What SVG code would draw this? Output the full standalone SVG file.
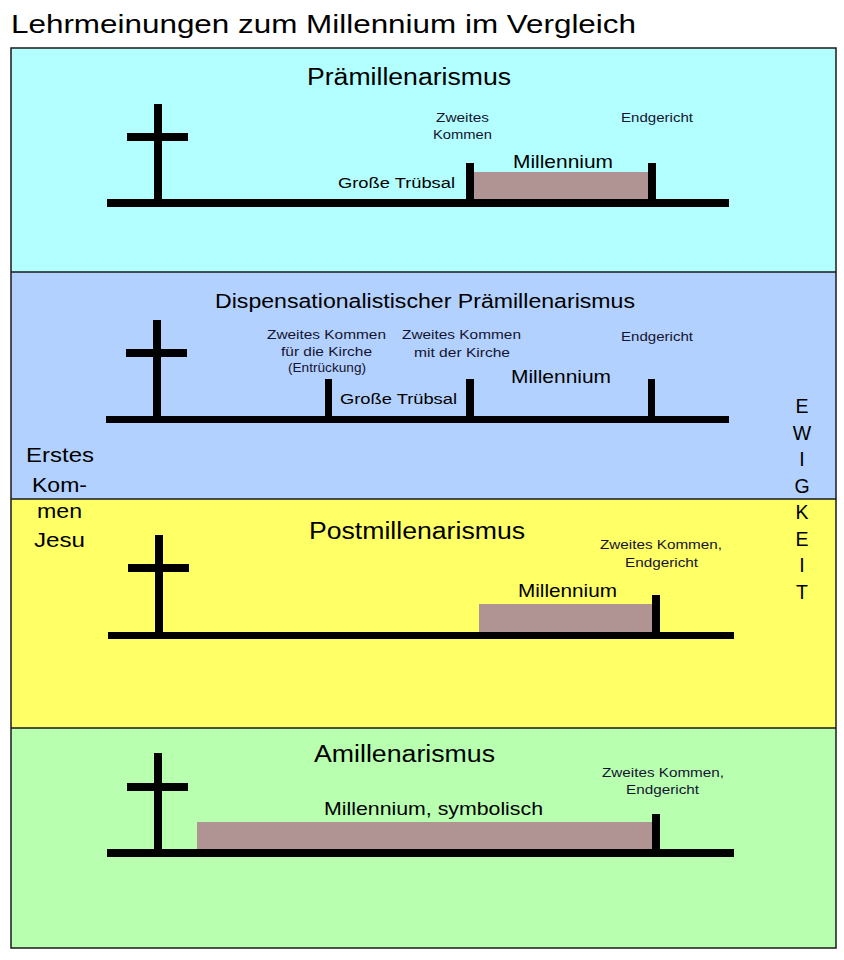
<svg xmlns="http://www.w3.org/2000/svg" width="844" height="960" viewBox="0 0 844 960">
<style>
text{font-family:"Liberation Sans",Arial,sans-serif;}
.ttl{font-size:25.5px;fill:#000;}
.hd{font-size:23px;fill:#000;text-anchor:middle;}
.hd2{font-size:20px;fill:#000;text-anchor:middle;}
.mil{font-size:19px;fill:#000;text-anchor:middle;}
.gt{font-size:15.5px;fill:#000;text-anchor:middle;}
.sm{font-size:13.5px;fill:#141430;text-anchor:middle;}
.xs{font-size:12px;fill:#141430;text-anchor:middle;}
.side{font-size:21px;fill:#000;text-anchor:middle;}
.ew{font-size:19.5px;fill:#000;text-anchor:middle;}
.blk{fill:#000;}
.bar{fill:#b09494;}
.div{stroke:#1a1a1a;stroke-width:1.5;fill:none;}
</style>
<rect x="0" y="0" width="844" height="960" fill="#fff"/>
<text class="ttl" x="11" y="33" textLength="625" lengthAdjust="spacingAndGlyphs">Lehrmeinungen zum Millennium im Vergleich</text>

<g id="band-praemill">
<rect x="11" y="48" width="825" height="224" fill="#b3ffff"/>
<text class="hd" x="409" y="85" textLength="204" lengthAdjust="spacingAndGlyphs">Prämillenarismus</text>
<rect class="blk" x="154" y="104" width="8" height="99"/>
<rect class="blk" x="127" y="133" width="61" height="8"/>
<rect class="blk" x="107" y="199" width="622" height="8"/>
<rect class="bar" x="474" y="172" width="174" height="27"/>
<rect class="blk" x="466" y="163" width="8" height="40"/>
<rect class="blk" x="648" y="163" width="8" height="40"/>
<text class="sm" x="462.5" y="122" textLength="53" lengthAdjust="spacingAndGlyphs">Zweites</text>
<text class="sm" x="462.5" y="139" textLength="59" lengthAdjust="spacingAndGlyphs">Kommen</text>
<text class="sm" x="657" y="122" textLength="72" lengthAdjust="spacingAndGlyphs">Endgericht</text>
<text class="mil" x="563" y="168" textLength="100" lengthAdjust="spacingAndGlyphs">Millennium</text>
<text class="gt" x="396.5" y="188" textLength="117" lengthAdjust="spacingAndGlyphs">Große Trübsal</text>
</g>

<g id="band-dispens">
<rect x="11" y="272" width="825" height="227" fill="#b3d1ff"/>
<text class="hd2" x="425" y="308" textLength="420" lengthAdjust="spacingAndGlyphs">Dispensationalistischer Prämillenarismus</text>
<rect class="blk" x="153" y="320" width="8" height="100"/>
<rect class="blk" x="126" y="349" width="61" height="8"/>
<rect class="blk" x="106" y="416" width="623" height="7"/>
<rect class="blk" x="325" y="379" width="7" height="40"/>
<rect class="blk" x="466" y="379" width="8" height="40"/>
<rect class="blk" x="648" y="379" width="7" height="40"/>
<text class="sm" x="326.5" y="339" textLength="119" lengthAdjust="spacingAndGlyphs">Zweites Kommen</text>
<text class="sm" x="326.5" y="356" textLength="91" lengthAdjust="spacingAndGlyphs">für die Kirche</text>
<text class="xs" x="327" y="372" textLength="78" lengthAdjust="spacingAndGlyphs">(Entrückung)</text>
<text class="sm" x="461.5" y="339" textLength="119" lengthAdjust="spacingAndGlyphs">Zweites Kommen</text>
<text class="sm" x="462" y="357" textLength="96" lengthAdjust="spacingAndGlyphs">mit der Kirche</text>
<text class="sm" x="657" y="341" textLength="72" lengthAdjust="spacingAndGlyphs">Endgericht</text>
<text class="mil" x="561" y="383" textLength="100" lengthAdjust="spacingAndGlyphs">Millennium</text>
<text class="gt" x="398.5" y="404" textLength="117" lengthAdjust="spacingAndGlyphs">Große Trübsal</text>
</g>

<g id="band-postmill">
<rect x="11" y="499" width="825" height="229" fill="#ffff66"/>
<text class="hd" x="417" y="539" textLength="216" lengthAdjust="spacingAndGlyphs">Postmillenarismus</text>
<rect class="blk" x="155" y="535" width="8" height="100"/>
<rect class="blk" x="128" y="564" width="61" height="8"/>
<rect class="blk" x="108" y="632" width="626" height="7"/>
<rect class="bar" x="479" y="604" width="173" height="28"/>
<rect class="blk" x="652" y="595" width="8" height="40"/>
<text class="sm" x="661" y="549" textLength="122" lengthAdjust="spacingAndGlyphs">Zweites Kommen,</text>
<text class="sm" x="661.5" y="567" textLength="73" lengthAdjust="spacingAndGlyphs">Endgericht</text>
<text class="mil" x="567.5" y="597" textLength="99" lengthAdjust="spacingAndGlyphs">Millennium</text>
</g>

<g id="band-amill">
<rect x="11" y="728" width="825" height="220" fill="#b8ffb0"/>
<text class="hd" x="404.5" y="762" textLength="181" lengthAdjust="spacingAndGlyphs">Amillenarismus</text>
<rect class="blk" x="154" y="753" width="8" height="100"/>
<rect class="blk" x="127" y="783" width="61" height="8"/>
<rect class="blk" x="107" y="849" width="627" height="8"/>
<rect class="bar" x="197" y="822" width="455" height="27"/>
<rect class="blk" x="652" y="814" width="8" height="40"/>
<text class="sm" x="663" y="777" textLength="122" lengthAdjust="spacingAndGlyphs">Zweites Kommen,</text>
<text class="sm" x="662.5" y="794" textLength="73" lengthAdjust="spacingAndGlyphs">Endgericht</text>
<text class="mil" x="433.5" y="815" textLength="219" lengthAdjust="spacingAndGlyphs">Millennium, symbolisch</text>
</g>

<g id="frame">
<line class="div" x1="11" y1="272" x2="836" y2="272"/>
<line class="div" x1="11" y1="499" x2="836" y2="499"/>
<line class="div" x1="11" y1="728" x2="836" y2="728"/>
<rect class="div" x="11" y="48" width="825" height="900"/>
</g>

<g id="erstes-kommen">
<text class="side" x="60" y="462" textLength="68" lengthAdjust="spacingAndGlyphs">Erstes</text>
<text class="side" x="59.5" y="492" textLength="55" lengthAdjust="spacingAndGlyphs">Kom-</text>
<text class="side" x="59.5" y="518" textLength="45" lengthAdjust="spacingAndGlyphs">men</text>
<text class="side" x="59.5" y="547" textLength="51" lengthAdjust="spacingAndGlyphs">Jesu</text>
</g>

<g id="ewigkeit">
<text class="ew" x="802" y="413">E</text>
<text class="ew" x="802" y="440">W</text>
<text class="ew" x="802" y="466">I</text>
<text class="ew" x="802" y="493">G</text>
<text class="ew" x="802" y="519">K</text>
<text class="ew" x="802" y="546">E</text>
<text class="ew" x="802" y="572">I</text>
<text class="ew" x="802" y="599">T</text>
</g>

<g id="connectors"/>
</svg>
